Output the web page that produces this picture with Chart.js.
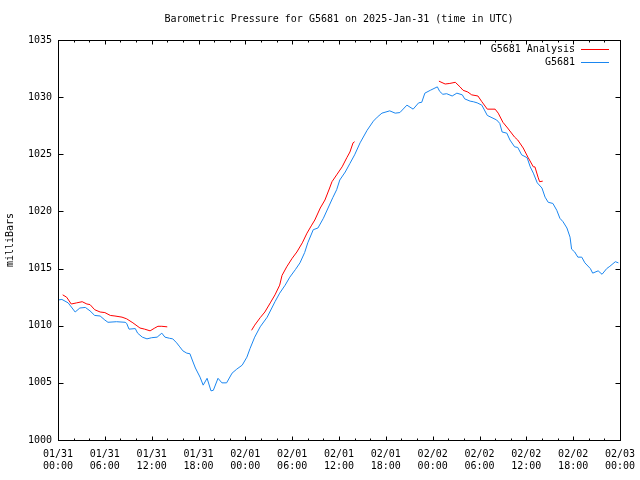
<!DOCTYPE html>
<html>
<head>
<meta charset="utf-8">
<script src="https://cdn.jsdelivr.net/npm/chart.js@4/dist/chart.umd.min.js"></script>
<style>
  body { margin: 0; background: #fff; }
  #wrap { width: 640px; height: 480px; }
</style>
</head>
<body>
<div id="wrap"><canvas id="chart" width="640" height="480"></canvas></div>
<script>
// hours since 2025-01-31 00:00 UTC
const stationHours = [0, 0.5, 1.3, 2.2, 2.8, 3.5, 4.1, 4.7, 5.4, 6.0, 6.4, 7.5, 8.6, 8.8, 9.1, 9.9, 10.2, 10.8, 11.4, 12.0,
  12.7, 13.3, 13.7, 14.3, 14.7, 15.2, 15.6, 16.0, 16.5, 16.9, 17.2, 17.6, 18.2, 18.6, 19.1, 19.6, 19.9, 20.5, 21.0, 21.6,
  22.3, 22.9, 23.6, 24.2, 24.6, 25.2, 25.9, 26.8, 27.8, 28.4, 29.1, 29.7, 30.4, 31.0, 31.6, 32.0, 32.7, 33.3, 34.0, 34.6,
  35.2, 35.7, 36.1, 36.8, 37.4, 38.0, 38.7, 39.6, 40.4, 40.9, 41.5, 42.5, 43.2, 43.8, 44.7, 45.5, 46.2, 46.6, 47.0, 47.7,
  48.6, 48.9, 49.3, 49.8, 50.5, 51.1, 51.8, 52.1, 52.8, 53.2, 53.7, 54.3, 55.0, 55.6, 56.2, 56.6, 56.9, 57.5, 57.9, 58.5,
  58.9, 59.4, 60.1, 60.5, 60.9, 61.4, 62.0, 62.4, 62.8, 63.4, 63.9, 64.3, 64.7, 65.2, 65.6, 65.8, 66.2, 66.6, 67.1, 67.5,
  68.2, 68.5, 69.2, 69.7, 70.3, 70.7, 71.4, 71.8];
const stationPressure = [1012.25, 1012.3, 1012.0, 1011.2, 1011.55, 1011.6, 1011.3, 1010.9, 1010.85, 1010.5, 1010.3, 1010.35, 1010.3, 1010.2, 1009.7, 1009.75, 1009.35, 1009.0, 1008.85, 1008.95,
  1009.0, 1009.35, 1009.0, 1008.9, 1008.85, 1008.5, 1008.15, 1007.8, 1007.6, 1007.55, 1007.0, 1006.3, 1005.5, 1004.8, 1005.4, 1004.3, 1004.35, 1005.4, 1005.0, 1005.0,
  1005.85, 1006.2, 1006.55, 1007.25, 1008.0, 1009.0, 1009.9, 1010.75, 1012.1, 1012.85, 1013.55, 1014.25, 1014.9, 1015.5, 1016.4, 1017.25, 1018.4, 1018.55, 1019.4, 1020.3,
  1021.2, 1021.9, 1022.75, 1023.45, 1024.2, 1024.95, 1026.0, 1027.1, 1027.9, 1028.25, 1028.6, 1028.8, 1028.6, 1028.65, 1029.3, 1028.95, 1029.5, 1029.55, 1030.35, 1030.6,
  1030.9, 1030.5, 1030.25, 1030.3, 1030.1, 1030.35, 1030.2, 1029.85, 1029.65, 1029.6, 1029.5, 1029.3, 1028.4, 1028.2, 1028.0, 1027.7, 1026.95, 1026.85, 1026.25, 1025.65,
  1025.6, 1024.95, 1024.7, 1023.9, 1023.35, 1022.5, 1022.05, 1021.25, 1020.8, 1020.7, 1020.1, 1019.4, 1019.1, 1018.55, 1017.75, 1016.7, 1016.45, 1016.0, 1016.0, 1015.5,
  1015.0, 1014.6, 1014.8, 1014.5, 1015.0, 1015.2, 1015.6, 1015.5];

// analysis runs, null = gap between runs
const analysisHours = [0.6, 1.1, 1.7, 2.4, 3.1, 3.7, 4.1, 4.7, 5.4, 6.0, 6.7, 7.3, 8.2, 8.8, 9.6, 10.5, 11.1, 11.8, 12.4, 12.8, 13.3, 14.0,
  19,
  24.8, 25.2, 25.9, 26.5, 27.2, 27.8, 28.4, 28.7, 29.3, 30.0, 30.6, 31.3, 31.9, 32.5, 32.9, 33.6, 34.2, 34.8, 35.1, 35.7, 36.4, 37.0, 37.4, 37.8, 38.0,
  43,
  48.8, 49.6, 50.2, 50.9, 51.5, 51.9, 52.5, 53.0, 53.8, 54.3, 55.0, 56.0, 56.4, 57.0, 57.6, 58.5, 58.9, 59.6, 60.2, 60.9, 61.1, 61.5, 61.7, 62.1];
const analysisPressure = [1012.7, 1012.5, 1011.9, 1012.0, 1012.1, 1011.9, 1011.85, 1011.4, 1011.2, 1011.15, 1010.9, 1010.85, 1010.75, 1010.6, 1010.25, 1009.8, 1009.7, 1009.55, 1009.8, 1009.95, 1009.95, 1009.9,
  null,
  1009.6, 1010.05, 1010.7, 1011.2, 1012.0, 1012.7, 1013.55, 1014.4, 1015.15, 1015.9, 1016.45, 1017.25, 1018.1, 1018.8, 1019.25, 1020.3, 1021.0, 1022.05, 1022.6, 1023.2, 1023.9, 1024.7, 1025.2, 1026.0, 1026.1,
  null,
  1031.4, 1031.15, 1031.2, 1031.3, 1030.9, 1030.6, 1030.45, 1030.2, 1030.1, 1029.6, 1028.95, 1028.95, 1028.6, 1027.8, 1027.3, 1026.5, 1026.25, 1025.55, 1024.75, 1023.9, 1023.9, 1023.0, 1022.6, 1022.65];

const tickDates = ['01/31', '01/31', '01/31', '01/31', '02/01', '02/01', '02/01', '02/01', '02/02', '02/02', '02/02', '02/02', '02/03'];
const tickTimes = ['00:00', '06:00', '12:00', '18:00', '00:00', '06:00', '12:00', '18:00', '00:00', '06:00', '12:00', '18:00', '00:00'];

const FONT = '"DejaVu Sans Mono", "Liberation Mono", monospace';

const toPoints = (xs, ys) => xs.map((x, i) => ({ x: x, y: ys[i] }));

// gnuplot-ish frame, inward ticks, title and legend
const framePlugin = {
  id: 'frame',
  afterDraw(chart) {
    const ctx = chart.ctx;
    const a = chart.chartArea;
    const xs = chart.scales.x, ys = chart.scales.y;
    const L = Math.round(a.left) + 0.5, R = Math.round(a.right) + 0.5;
    const T = Math.round(a.top) + 0.5, B = Math.round(a.bottom) + 0.5;
    ctx.save();
    ctx.strokeStyle = '#000';
    ctx.lineWidth = 1;
    ctx.strokeRect(L, T, R - L, B - T);
    ctx.beginPath();
    // majors every 6h, minors every 2h
    for (let h = 0; h <= 72; h += 2) {
      const px = Math.round(xs.getPixelForValue(h)) + 0.5;
      const len = h % 6 === 0 ? 4 : 2;
      ctx.moveTo(px, B); ctx.lineTo(px, B - len);
      ctx.moveTo(px, T); ctx.lineTo(px, T + len);
    }
    for (let v = 1000; v <= 1035; v += 5) {
      const py = Math.round(ys.getPixelForValue(v)) + 0.5;
      ctx.moveTo(L, py); ctx.lineTo(L + 5, py);
      ctx.moveTo(R, py); ctx.lineTo(R - 5, py);
    }
    ctx.stroke();

    ctx.fillStyle = '#000';
    ctx.font = '10px ' + FONT;
    ctx.textAlign = 'center';
    ctx.textBaseline = 'middle';
    ctx.fillText('Barometric Pressure for G5681 on 2025-Jan-31 (time in UTC)', (a.left + a.right) / 2, 19);

    ctx.textAlign = 'right';
    chart.data.datasets.forEach((ds, i) => {
      const y = 49 + i * 13;
      ctx.fillStyle = '#000';
      ctx.fillText(ds.label, a.right - 45, y);
      ctx.strokeStyle = ds.borderColor;
      ctx.beginPath();
      ctx.moveTo(a.right - 39, Math.round(y) + 0.5);
      ctx.lineTo(a.right - 11, Math.round(y) + 0.5);
      ctx.stroke();
    });
    ctx.restore();
  }
};

new Chart(document.getElementById('chart'), {
  type: 'line',
  data: {
    datasets: [
      {
        label: 'G5681 Analysis',
        data: toPoints(analysisHours, analysisPressure),
        borderColor: '#ff0000',
        borderWidth: 1,
        pointRadius: 0,
        spanGaps: false
      },
      {
        label: 'G5681',
        data: toPoints(stationHours, stationPressure),
        borderColor: '#1a86f0',
        borderWidth: 1,
        pointRadius: 0
      }
    ]
  },
  options: {
    responsive: false,
    animation: false,
    layout: { padding: { left: 0, right: 20, top: 40, bottom: 0 } },
    plugins: {
      legend: { display: false },
      title: { display: false },
      tooltip: { enabled: false }
    },
    scales: {
      x: {
        type: 'linear',
        min: 0,
        max: 72,
        grid: { display: false, drawTicks: false },
        border: { display: false },
        afterFit: scale => {
          scale.height = 40;
          scale.paddingLeft = 0;
          scale.paddingRight = 0;
        },
        ticks: {
          stepSize: 6,
          autoSkip: false,
          maxRotation: 0,
          padding: 8,
          color: '#000',
          font: { family: FONT, size: 10, lineHeight: 1.2 },
          callback: v => [tickDates[v / 6], tickTimes[v / 6]]
        }
      },
      y: {
        min: 1000,
        max: 1035,
        grid: { display: false, drawTicks: false },
        border: { display: false },
        afterFit: scale => {
          scale.width = 58;
          scale.paddingTop = 0;
          scale.paddingBottom = 0;
        },
        title: {
          display: true,
          text: 'milliBars',
          color: '#000',
          padding: { top: 4, bottom: 0 },
          font: { family: FONT, size: 10 }
        },
        ticks: {
          stepSize: 5,
          padding: 6,
          color: '#000',
          font: { family: FONT, size: 10 },
          callback: v => String(v)
        }
      }
    }
  },
  plugins: [framePlugin]
});
</script>
</body>
</html>
